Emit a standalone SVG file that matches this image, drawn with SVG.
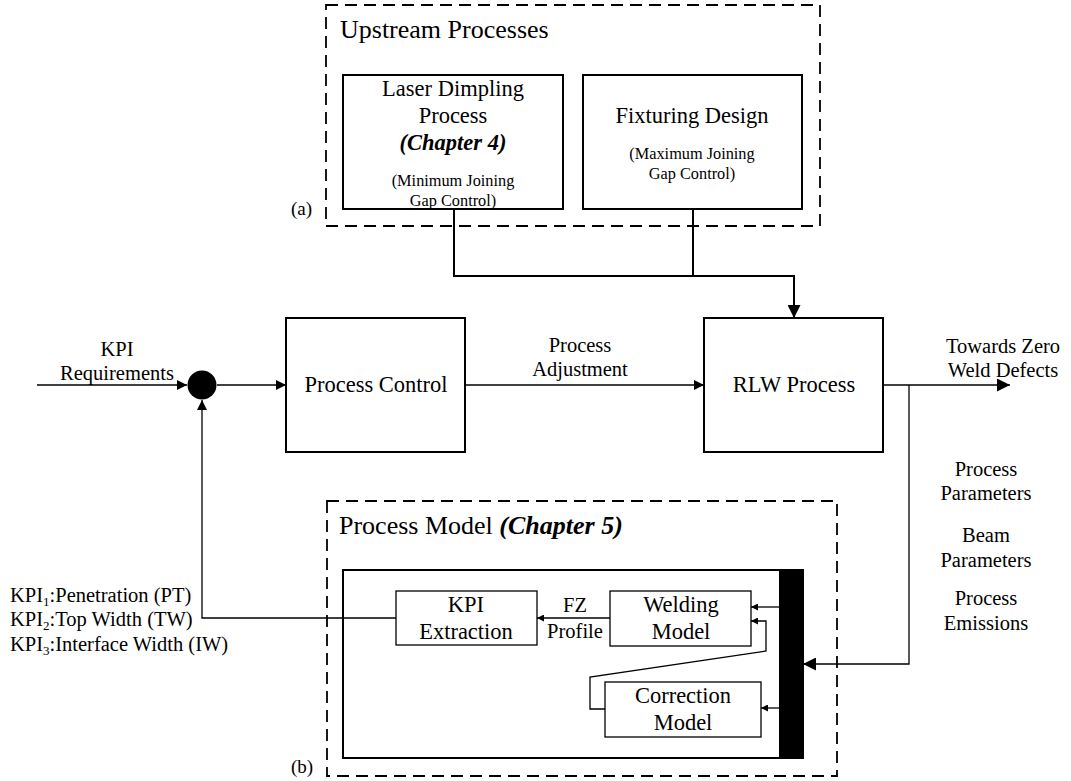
<svg xmlns="http://www.w3.org/2000/svg" width="1071" height="781" viewBox="0 0 1071 781">
  <defs>
    <marker id="arr" viewBox="0 0 10 10" refX="10" refY="5" markerWidth="10" markerHeight="10" markerUnits="userSpaceOnUse" orient="auto">
      <path d="M0,0 L10,5 L0,10 Z" fill="#000"/>
    </marker>
    <marker id="arrBig" viewBox="0 0 10 10" refX="10" refY="5" markerWidth="13" markerHeight="13" markerUnits="userSpaceOnUse" orient="auto">
      <path d="M0,0 L10,5 L0,10 Z" fill="#000"/>
    </marker>
    <marker id="arrSm" viewBox="0 0 10 10" refX="10" refY="5" markerWidth="7" markerHeight="7" markerUnits="userSpaceOnUse" orient="auto">
      <path d="M0,0 L10,5 L0,10 Z" fill="#000"/>
    </marker>
  </defs>
  <style>
    .lbl { font-size: 20.5px; text-anchor: middle; }
    .node { font-size: 22.5px; text-anchor: middle; }
    .small { font-size: 16.3px; text-anchor: middle; }
    .title { font-size: 26px; }
    .tag { font-size: 19px; }
    .chap { font-weight: bold; font-style: italic; }
    .box { fill: #fff; stroke: #000; stroke-width: 2; }
    .thin { fill: #fff; stroke: #000; stroke-width: 1.3; }
    .dash { fill: none; stroke: #000; stroke-width: 1.8; stroke-dasharray: 12 7; }
    .wire { fill: none; stroke: #000; stroke-width: 1.3; }
    .wire2 { fill: none; stroke: #000; stroke-width: 2; }
  </style>

  <rect width="1071" height="781" fill="#fff"/>

  <g font-family="'Liberation Serif', 'DejaVu Serif', serif" fill="#000">

  <!-- upstream processes container -->
  <g id="upstream">
    <rect class="dash" x="326" y="5" width="494" height="221"/>
    <text class="title" x="340" y="38">Upstream Processes</text>
    <text class="tag" x="291" y="215">(a)</text>
  </g>

  <g id="laser-dimpling">
    <rect class="box" x="343" y="75" width="220" height="134"/>
    <text class="node" x="453" y="96">Laser Dimpling</text>
    <text class="node" x="453" y="123">Process</text>
    <text class="node chap" x="453" y="150">(Chapter 4)</text>
    <text class="small" x="453" y="186">(Minimum Joining</text>
    <text class="small" x="453" y="206">Gap Control)</text>
  </g>

  <g id="fixturing-design">
    <rect class="box" x="583" y="75" width="219" height="134"/>
    <text class="node" x="692" y="123">Fixturing Design</text>
    <text class="small" x="692" y="159">(Maximum Joining</text>
    <text class="small" x="692" y="179">Gap Control)</text>
  </g>

  <!-- main loop -->
  <g id="summing-junction">
    <circle cx="202" cy="385" r="14.5" fill="#000"/>
  </g>

  <g id="kpi-requirements">
    <text class="lbl" x="117" y="356">KPI</text>
    <text class="lbl" x="117" y="380">Requirements</text>
  </g>

  <g id="process-control">
    <rect class="box" x="286" y="318" width="179" height="134"/>
    <text class="node" x="376" y="392">Process Control</text>
  </g>

  <g id="process-adjustment">
    <text class="lbl" x="580" y="352">Process</text>
    <text class="lbl" x="580" y="376">Adjustment</text>
  </g>

  <g id="rlw-process">
    <rect class="box" x="704" y="318" width="179" height="134"/>
    <text class="node" x="794" y="392">RLW Process</text>
  </g>

  <g id="output-label">
    <text class="lbl" x="1003" y="353">Towards Zero</text>
    <text class="lbl" x="1003" y="377">Weld Defects</text>
  </g>

  <g id="measured-signals">
    <text class="lbl" x="986" y="476">Process</text>
    <text class="lbl" x="986" y="500">Parameters</text>
    <text class="lbl" x="986" y="542">Beam</text>
    <text class="lbl" x="986" y="567">Parameters</text>
    <text class="lbl" x="986" y="605">Process</text>
    <text class="lbl" x="986" y="630">Emissions</text>
  </g>

  <g id="kpi-list" font-size="20.5">
    <text x="10" y="602">KPI<tspan dy="4" font-size="13">1</tspan><tspan dy="-4">:Penetration (PT)</tspan></text>
    <text x="10" y="626">KPI<tspan dy="4" font-size="13">2</tspan><tspan dy="-4">:Top Width (TW)</tspan></text>
    <text x="10" y="651">KPI<tspan dy="4" font-size="13">3</tspan><tspan dy="-4">:Interface Width (IW)</tspan></text>
  </g>

  <!-- process model container -->
  <g id="process-model">
    <rect class="dash" x="327" y="501" width="510" height="275"/>
    <text class="title" x="339" y="534">Process Model <tspan class="chap">(Chapter 5)</tspan></text>
    <text class="tag" x="291" y="773">(b)</text>
    <rect class="box" x="343" y="570" width="460" height="188"/>
  </g>

  <g id="signal-bus">
    <rect x="779" y="570" width="24" height="188" fill="#000"/>
  </g>

  <g id="kpi-extraction">
    <rect class="thin" x="396" y="591" width="141" height="54"/>
    <text class="node" x="466" y="612">KPI</text>
    <text class="node" x="466" y="639">Extraction</text>
  </g>

  <g id="welding-model">
    <rect class="thin" x="610" y="591" width="141" height="55"/>
    <text class="node" x="681" y="612">Welding</text>
    <text class="node" x="681" y="639">Model</text>
  </g>

  <g id="fz-profile">
    <text class="lbl" x="575" y="612">FZ</text>
    <text class="lbl" x="575" y="638">Profile</text>
  </g>

  <g id="correction-model">
    <rect class="thin" x="605" y="682" width="156" height="55"/>
    <text class="node" x="683" y="703">Correction</text>
    <text class="node" x="683" y="730">Model</text>
  </g>

  </g>

  <!-- connectors -->
  <g id="connectors">
    <!-- upstream merge into RLW -->
    <polyline class="wire2" points="454,209 454,276 794,276 794,318" marker-end="url(#arrBig)"/>
    <line class="wire2" x1="693" y1="209" x2="693" y2="276"/>
    <!-- forward path -->
    <line class="wire" x1="37" y1="385" x2="187" y2="385" marker-end="url(#arr)"/>
    <line class="wire" x1="217" y1="385" x2="286" y2="385" marker-end="url(#arr)"/>
    <line class="wire" x1="465" y1="385" x2="704" y2="385" marker-end="url(#arr)"/>
    <line class="wire" x1="883" y1="385" x2="1010" y2="385" marker-end="url(#arrBig)"/>
    <!-- measurement branch into the model -->
    <polyline class="wire" points="909,385 909,664 803,664" marker-end="url(#arrBig)"/>
    <!-- KPI feedback to the junction -->
    <polyline class="wire" points="396,618 202,618 202,400" marker-end="url(#arr)"/>
    <!-- internal model wiring -->
    <line class="wire" x1="610" y1="618" x2="537" y2="618" marker-end="url(#arrSm)"/>
    <line class="wire" x1="779" y1="607" x2="751" y2="607" marker-end="url(#arrSm)"/>
    <line class="wire" x1="779" y1="708" x2="761" y2="708" marker-end="url(#arrSm)"/>
    <polyline class="wire" points="605,709 590,709 590,677 766,651 766,621 751,621" marker-end="url(#arrSm)"/>
  </g>
</svg>
